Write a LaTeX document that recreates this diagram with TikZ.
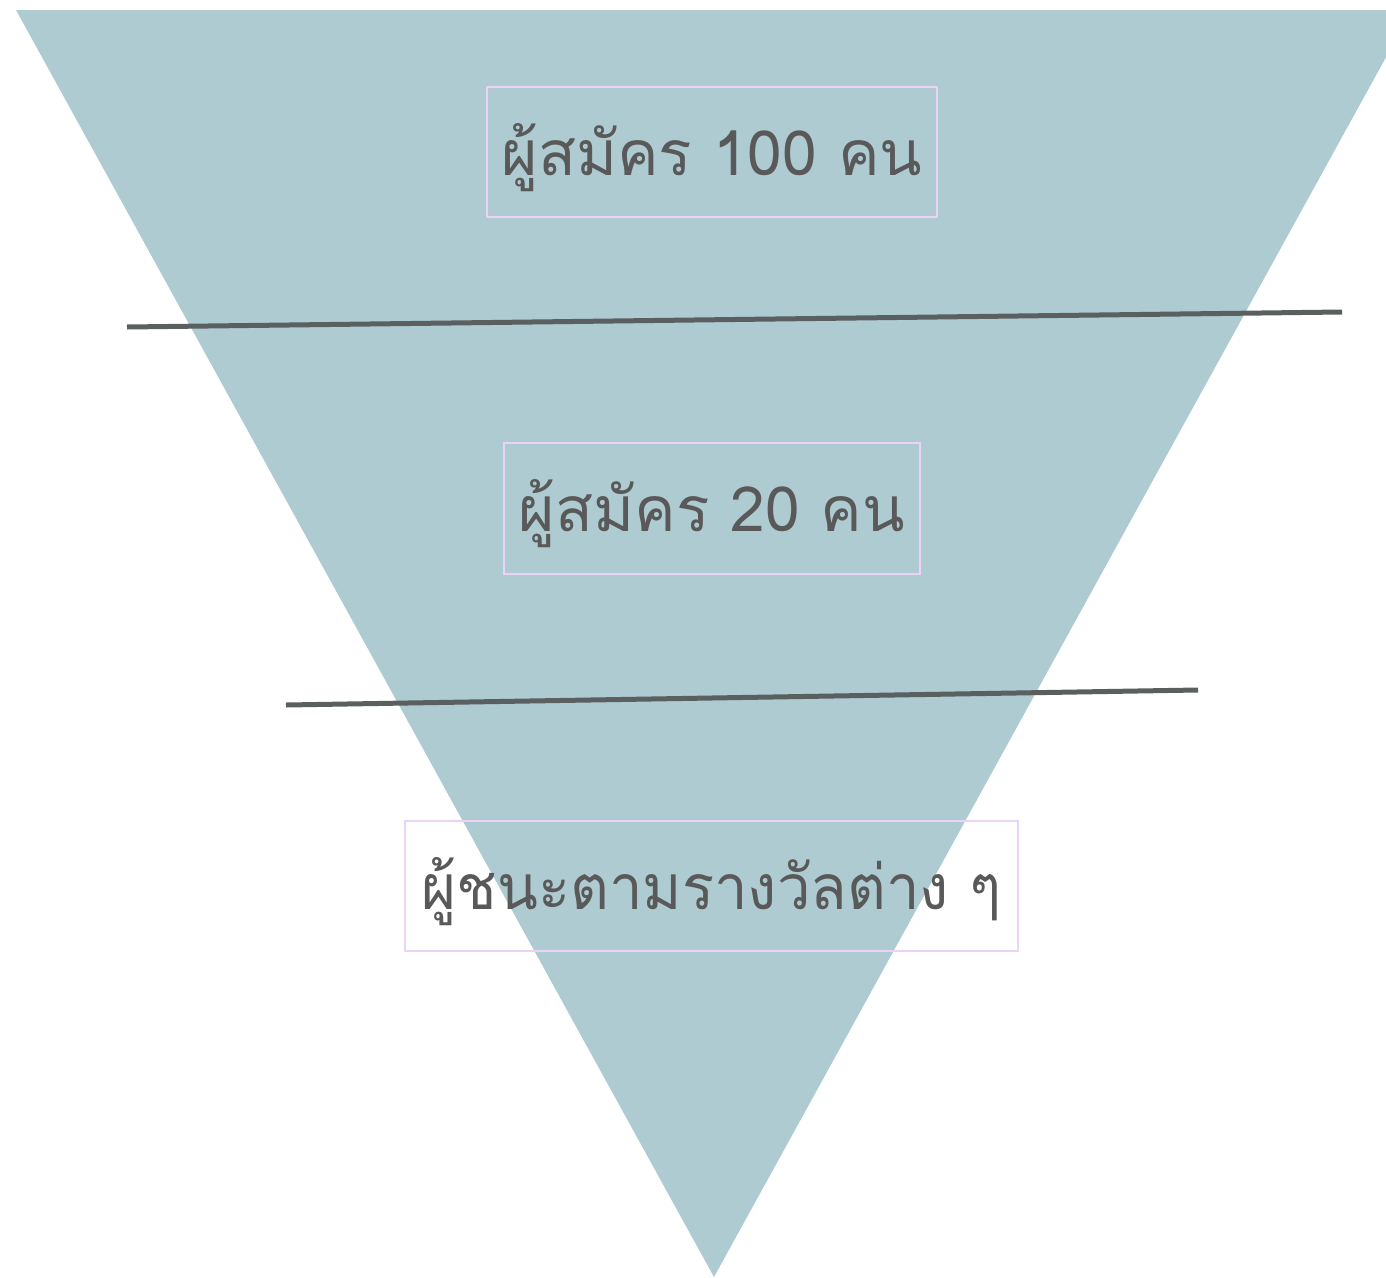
\documentclass[tikz,border=0pt]{standalone}
\usepackage{fontspec}
\newfontfamily\thaifont[Script=Thai]{Loma}
\newfontfamily\thaicond[Script=Thai,FakeStretch=0.96]{Loma}
\definecolor{funnel}{HTML}{AFCBD2}
\definecolor{boxline}{HTML}{EBD3F7}
\definecolor{txt}{HTML}{595959}
\definecolor{rule}{HTML}{5A5F5F}
\newcommand{\lowtext}[1]{\raisebox{-23.5pt}[0pt][0pt]{#1}}
\begin{document}
\begin{tikzpicture}[x=1pt,y=-1pt,
  label/.style={draw=boxline,line width=2pt,inner sep=0pt,text=txt,
    font=\thaifont\fontsize{62.3}{75}\selectfont},
  divider/.style={draw=rule,line width=5pt}]
\useasboundingbox (0,0) rectangle (1386,1277);
\fill[funnel] (16,10) -- (1412,10) -- (714,1277) -- cycle;
\coordinate (l1a) at (127,327);
\coordinate (l1b) at (1342,312);
\coordinate (l2a) at (286,705);
\coordinate (l2b) at (1198,690);
\draw[divider] (l1a) -- (l1b);
\draw[divider] (l2a) -- (l2b);
\node[label,minimum width=450pt,minimum height=130pt] (b1) at (712,152) {\lowtext{ผู้สมัคร 100 คน}};
\node[label,minimum width=416pt,minimum height=131pt] (b2) at (712,508) {\lowtext{ผู้สมัคร 20 คน}};
\node[label,minimum width=613pt,minimum height=130pt,
  font=\thaicond\fontsize{62.3}{75}\selectfont] (b3) at (711.5,886) {\lowtext{ผู้ชนะตามรางวัลต่าง ๆ}};
\end{tikzpicture}
\end{document}
